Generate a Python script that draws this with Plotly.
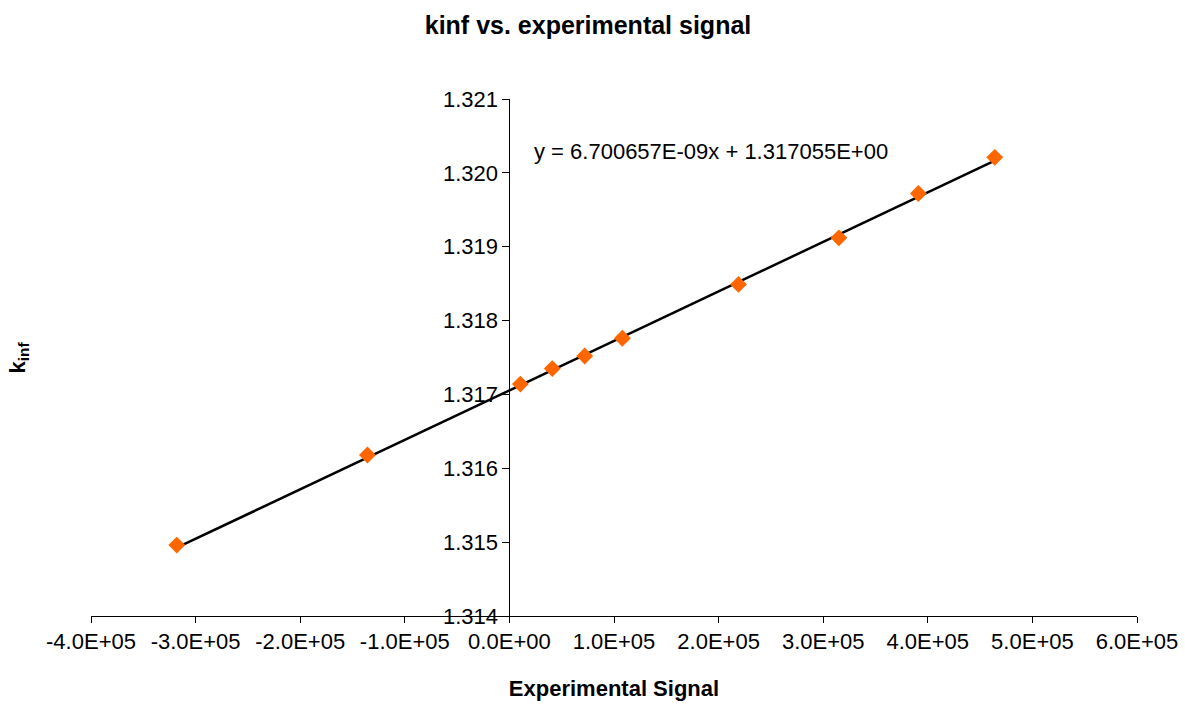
import plotly.graph_objects as go

# Data
signal = [-318000, -135700, 10500, 41000, 72000, 108000, 219000, 315000, 391000, 464000]
kinf = [1.31496, 1.31618, 1.31714, 1.31735, 1.31752, 1.31776, 1.31849, 1.31912, 1.31972, 1.32021]

slope = 6.700657e-09
intercept = 1.317055
equation = "y = 6.700657E-09x + 1.317055E+00"

x_ticks = [-400000, -300000, -200000, -100000, 0, 100000, 200000, 300000, 400000, 500000, 600000]
x_ticklabels = ["-4.0E+05", "-3.0E+05", "-2.0E+05", "-1.0E+05", "0.0E+00", "1.0E+05",
                "2.0E+05", "3.0E+05", "4.0E+05", "5.0E+05", "6.0E+05"]
y_ticks = [1.314, 1.315, 1.316, 1.317, 1.318, 1.319, 1.320, 1.321]
y_ticklabels = ["1.314", "1.315", "1.316", "1.317", "1.318", "1.319", "1.320", "1.321"]

FONT = "Arial, Liberation Sans, sans-serif"
W, H = 1185, 704
ML, MR, MT, MB = 91, 48, 99, 88

trend_x = [min(signal), max(signal)]
trend_y = [slope * v + intercept for v in trend_x]

fig = go.Figure()
fig.add_trace(go.Scatter(
    x=trend_x, y=trend_y, mode="lines",
    line=dict(color="black", width=2.5),
    showlegend=False,
))
fig.add_trace(go.Scatter(
    x=signal, y=kinf, mode="markers",
    marker=dict(symbol="diamond", size=13, color="#FF6600", line=dict(width=0)),
    showlegend=False,
))

fig.add_annotation(
    x=22000, y=1.32029, xref="x", yref="y", text=equation, showarrow=False,
    xanchor="left", yanchor="middle",
    font=dict(family=FONT, size=22, color="black"),
)

fig.add_annotation(
    x=(18 - ML) / (W - ML - MR), y=0.5, xref="paper", yref="paper",
    text="<b>k<sub>inf</sub></b>",
    showarrow=False, textangle=-90, xanchor="center", yanchor="middle",
    font=dict(family=FONT, size=22, color="black"),
)

fig.update_layout(
    width=W, height=H,
    margin=dict(l=ML, r=MR, t=MT, b=MB),
    paper_bgcolor="white", plot_bgcolor="white",
    font=dict(family=FONT, size=22, color="black"),
    title=dict(text="<b>kinf vs. experimental signal</b>",
               x=588 / W, xref="container", xanchor="center",
               y=1 - 25 / H, yref="container", yanchor="middle",
               font=dict(family=FONT, size=25, color="black")),
    xaxis=dict(
        range=[-400000, 600000], tickvals=x_ticks, ticktext=x_ticklabels,
        showgrid=False, zeroline=False, showline=True, linecolor="black", linewidth=1,
        ticks="outside", ticklen=6, tickcolor="black", tickwidth=1,
        tickfont=dict(family=FONT, size=22, color="black"),
        title=dict(text="<b>Experimental Signal</b>", standoff=27,
                   font=dict(family=FONT, size=22, color="black")),
        automargin=False,
    ),
    yaxis=dict(
        range=[1.314, 1.321], tickvals=y_ticks, ticktext=y_ticklabels,
        anchor="free", position=0.4,
        showgrid=False, zeroline=False, showline=True, linecolor="black", linewidth=1,
        ticks="outside", ticklen=7, tickcolor="black", tickwidth=1,
        tickfont=dict(family=FONT, size=22, color="black"),
        automargin=False,
    ),
)

fig.write_html("out.html")
